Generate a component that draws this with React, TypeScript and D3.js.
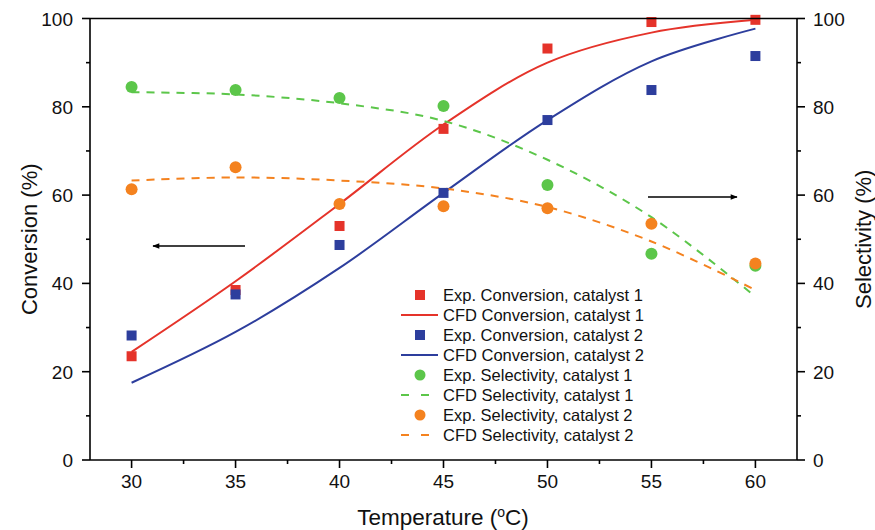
import React from "react";
import * as d3 from "d3";

const temps = [30, 35, 40, 45, 50, 55, 60];

const expConv1 = [23.5, 38.5, 53, 75, 93.2, 99.2, 99.7];
const expConv2 = [28.2, 37.5, 48.7, 60.5, 77, 83.8, 91.5];
const expSel1 = [84.5, 83.8, 82, 80.2, 62.3, 46.7, 44];
const expSel2 = [61.3, 66.3, 58, 57.5, 57, 53.5, 44.5];

const cfdConv1 = [24.5, 40.5, 58, 76, 90, 96.8, 99.7];
const cfdConv2 = [17.5, 29, 43.5, 60.5, 77, 90.3, 97.7];
const cfdSel1 = [83.3, 82.8, 80.8, 76.8, 68, 55, 37];
const cfdSel2 = [63.3, 64, 63.3, 61.5, 57.3, 49.5, 38.5];

const xTicks = [30, 35, 40, 45, 50, 55, 60];
const yTicks = [0, 20, 40, 60, 80, 100];

const RED = "#e5332a";
const BLUE = "#2d3e9d";
const GREEN = "#5cc64a";
const ORANGE = "#f4821f";

const legendItems = [
  { label: "Exp. Conversion, catalyst 1", kind: "square", color: RED },
  { label: "CFD Conversion, catalyst 1", kind: "line", color: RED },
  { label: "Exp. Conversion, catalyst 2", kind: "square", color: BLUE },
  { label: "CFD Conversion, catalyst 2", kind: "line", color: BLUE },
  { label: "Exp. Selectivity, catalyst 1", kind: "circle", color: GREEN },
  { label: "CFD Selectivity, catalyst 1", kind: "dash", color: GREEN },
  { label: "Exp. Selectivity, catalyst 2", kind: "circle", color: ORANGE },
  { label: "CFD Selectivity, catalyst 2", kind: "dash", color: ORANGE },
];

const W = 875;
const H = 530;
const left = 90;
const right = 797;
const top = 18.5;
const bottom = 460;

export default function App() {
  const x = d3.scaleLinear().domain([28, 62]).range([left, right]);
  const y = d3.scaleLinear().domain([0, 100]).range([bottom, top]);

  const line = d3
    .line<number>()
    .x((_, i) => x(temps[i]))
    .y((d) => y(d))
    .curve(d3.curveCatmullRom.alpha(0.5));

  const minorX = d3.range(32.5, 62, 5);
  const minorY = d3.range(10, 100, 20);
  const font = "'Liberation Sans', Arial, sans-serif";

  const squares = (vals: number[], color: string) =>
    vals.map((v, i) => (
      <rect key={color + i} x={x(temps[i]) - 5} y={y(v) - 5} width={10} height={10} fill={color} />
    ));
  const circles = (vals: number[], color: string) =>
    vals.map((v, i) => <circle key={color + i} cx={x(temps[i])} cy={y(v)} r={6} fill={color} />);

  return (
    <svg width={W} height={H} style={{ position: "absolute", left: 0, top: 0 }} fontFamily={font}>
      <defs>
        <marker id="ah" viewBox="0 0 10 10" refX="9" refY="5" markerWidth="9" markerHeight="7" orient="auto-start-reverse" markerUnits="userSpaceOnUse">
          <path d="M0,1 L10,5 L0,9 Z" fill="#000" />
        </marker>
      </defs>

      {/* curves */}
      <path d={line(cfdConv1) || ""} fill="none" stroke={RED} strokeWidth={2} />
      <path d={line(cfdConv2) || ""} fill="none" stroke={BLUE} strokeWidth={2} />
      <path d={line(cfdSel1) || ""} fill="none" stroke={GREEN} strokeWidth={2} strokeDasharray="8,7" />
      <path d={line(cfdSel2) || ""} fill="none" stroke={ORANGE} strokeWidth={2} strokeDasharray="8,7" />

      {/* markers */}
      {squares(expConv1, RED)}
      {squares(expConv2, BLUE)}
      {circles(expSel1, GREEN)}
      {circles(expSel2, ORANGE)}

      {/* frame */}
      <g stroke="#000" strokeWidth={1.6} fill="none">
        <line x1={left} x2={right} y1={top} y2={top} />
        <line x1={left} x2={right} y1={bottom} y2={bottom} />
        <line x1={left} x2={left} y1={top} y2={bottom} />
        <line x1={right} x2={right} y1={top} y2={bottom} />
        {xTicks.map((t) => (
          <line key={"xt" + t} x1={x(t)} x2={x(t)} y1={bottom} y2={bottom + 8} />
        ))}
        {minorX.map((t) => (
          <line key={"xm" + t} x1={x(t)} x2={x(t)} y1={bottom} y2={bottom + 4} />
        ))}
        {yTicks.map((t) => (
          <g key={"yt" + t}>
            <line x1={left - 8} x2={left} y1={y(t)} y2={y(t)} />
            <line x1={right} x2={right + 8} y1={y(t)} y2={y(t)} />
          </g>
        ))}
        {minorY.map((t) => (
          <g key={"ym" + t}>
            <line x1={left - 4} x2={left} y1={y(t)} y2={y(t)} />
            <line x1={right} x2={right + 4} y1={y(t)} y2={y(t)} />
          </g>
        ))}
      </g>

      {/* tick labels */}
      <g fontSize={19} fill="#111">
        {xTicks.map((t) => (
          <text key={"xl" + t} x={x(t)} y={bottom + 28} textAnchor="middle">{t}</text>
        ))}
        {yTicks.map((t) => (
          <text key={"yl" + t} x={left - 17} y={y(t) + 7} textAnchor="end">{t}</text>
        ))}
        {yTicks.map((t) => (
          <text key={"yr" + t} x={right + 16} y={y(t) + 7} textAnchor="start">{t}</text>
        ))}
      </g>

      {/* axis titles */}
      <text x={443} y={525} textAnchor="middle" fontSize={22.5} fill="#111">
        Temperature (<tspan baselineShift="super" fontSize={14}>o</tspan>C)
      </text>
      <text transform={`translate(37,${(top + bottom) / 2}) rotate(-90)`} textAnchor="middle" fontSize={22} fill="#111">
        Conversion (%)
      </text>
      <text transform={`translate(871,${(top + bottom) / 2}) rotate(-90)`} textAnchor="middle" fontSize={22} fill="#111">
        Selectivity (%)
      </text>

      {/* arrows */}
      <line x1={245} x2={153} y1={246} y2={246} stroke="#000" strokeWidth={1.3} markerEnd="url(#ah)" />
      <line x1={648} x2={737} y1={197} y2={197} stroke="#000" strokeWidth={1.3} markerEnd="url(#ah)" />

      {/* legend */}
      <g fontSize={16.5} fill="#111">
        {legendItems.map((it, i) => {
          const cy = 295 + i * 20;
          return (
            <g key={it.label}>
              {it.kind === "square" && <rect x={415} y={cy - 5} width={10} height={10} fill={it.color} />}
              {it.kind === "circle" && <circle cx={420} cy={cy} r={5.5} fill={it.color} />}
              {it.kind === "line" && <line x1={401} x2={438} y1={cy} y2={cy} stroke={it.color} strokeWidth={2} />}
              {it.kind === "dash" && (
                <line x1={401} x2={438} y1={cy} y2={cy} stroke={it.color} strokeWidth={2} strokeDasharray="8,12" />
              )}
              <text x={443} y={cy + 6}>{it.label}</text>
            </g>
          );
        })}
      </g>
    </svg>
  );
}
